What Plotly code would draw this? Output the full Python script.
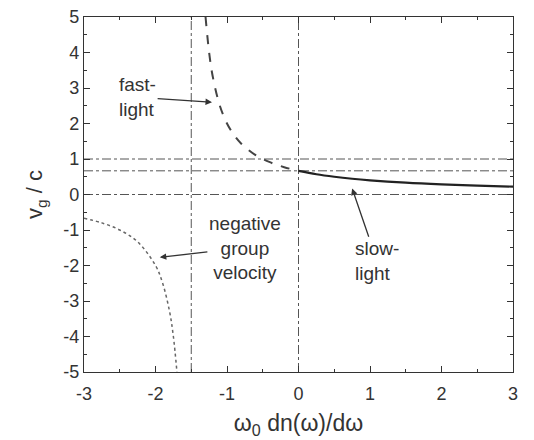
import plotly.graph_objects as go

# Values
fast_x = [-1.3, -1.25, -1.2, -1.1, -1.0, -0.9, -0.8, -0.6, -0.4, -0.2, 0.0]
fast_y = [5.0, 4.0, 3.33, 2.5, 2.0, 1.67, 1.43, 1.11, 0.91, 0.77, 0.667]

slow_x = [0.0, 0.25, 0.5, 0.75, 1.0, 1.5, 2.0, 2.5, 3.0]
slow_y = [0.667, 0.571, 0.5, 0.444, 0.4, 0.333, 0.286, 0.25, 0.222]

neg_x = [-3.0, -2.75, -2.5, -2.25, -2.0, -1.9, -1.8, -1.75, -1.7]
neg_y = [-0.667, -0.8, -1.0, -1.333, -2.0, -2.5, -3.33, -4.0, -5.0]

h_lines = [1.0, 0.667, 0.0]
v_lines = [-1.5, 0.0]

x_ticks = [-3, -2, -1, 0, 1, 2, 3]
y_ticks = [5, 4, 3, 2, 1, 0, -1, -2, -3, -4, -5]

FONT = "Liberation Sans"
INK = "#333333"

fig = go.Figure()

for y in h_lines:
    fig.add_hline(y=y, line=dict(color="#555555", width=1, dash="dashdot"), layer="below")
for x in v_lines:
    fig.add_vline(x=x, line=dict(color="#555555", width=1, dash="dashdot"), layer="below")

fig.add_trace(go.Scatter(x=fast_x, y=fast_y, mode="lines", line=dict(color="#444444", width=2, dash="dash", shape="spline"), showlegend=False))
fig.add_trace(go.Scatter(x=slow_x, y=slow_y, mode="lines", line=dict(color="#222222", width=2.2, shape="spline"), showlegend=False))
fig.add_trace(go.Scatter(x=neg_x, y=neg_y, mode="lines", line=dict(color="#666666", width=1.5, dash="dot", shape="spline"), showlegend=False))

ann_font = dict(family=FONT, size=19, color=INK)
arrow = dict(showarrow=True, arrowhead=2, arrowsize=1, arrowwidth=1.3, arrowcolor=INK,
             xref="x", yref="y", axref="x", ayref="y", font=ann_font)

fig.add_annotation(x=-1.21, y=2.6, ax=-2.25, ay=2.74, text="fast-<br>light", align="left", **arrow)
fig.add_annotation(x=-1.94, y=-1.77, ax=-0.75, ay=-1.5, text="negative<br>group<br>velocity", align="center", **arrow)
fig.add_annotation(x=0.75, y=0.17, ax=1.1, ay=-1.88, text="slow-<br>light", align="left", **arrow)

axis_common = dict(showgrid=False, zeroline=False, showline=True, linecolor="#333333", linewidth=1.2,
                   mirror="allticks", ticks="inside", ticklen=6, tickwidth=1, tickcolor="#333333",
                   automargin=False, ticklabeloverflow="allow",
                   tickfont=dict(family=FONT, size=18, color=INK))

fig.update_xaxes(range=[-3, 3], tickvals=x_ticks, ticktext=[str(v) for v in x_ticks],
                 minor=dict(dtick=0.5, ticks="inside", ticklen=3, tickcolor="#333333"),
                 ticklabelstandoff=5,
                 title=dict(text="ω<sub>0</sub> dn(ω)/dω", font=dict(family=FONT, size=23, color=INK), standoff=12),
                 **axis_common)
fig.update_yaxes(range=[-5, 5], tickvals=y_ticks, ticktext=[str(v) for v in y_ticks],
                 minor=dict(dtick=0.5, ticks="inside", ticklen=3, tickcolor="#333333"),
                 title=dict(text="v<sub>g</sub> / c", font=dict(family=FONT, size=22, color=INK), standoff=14),
                 **axis_common)

# page body adds ~8px offset; margins compensate so the plot box lands near x 84-513, y 17-372
fig.update_layout(width=534, height=440, margin=dict(l=76, r=29, t=9, b=76),
                  plot_bgcolor="white", paper_bgcolor="white")

fig.write_html("out.html")
